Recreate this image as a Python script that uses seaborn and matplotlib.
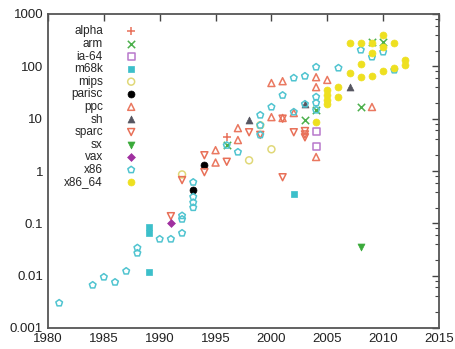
import matplotlib
matplotlib.use("Agg")
import matplotlib.pyplot as plt
import matplotlib.ticker as mticker
import seaborn as sns

# performance per architecture, by year of release (log scale)
alpha_year = [1996]
alpha_perf = [4.4]
arm_year = [1996, 2003, 2004, 2008, 2009, 2010]
arm_perf = [3.1, 9.4, 14.6, 16.7, 292, 292]
ia64_year = [2004, 2004]
ia64_perf = [5.8, 3.0]
m68k_year = [1989, 1989, 1989, 2002]
m68k_perf = [0.085, 0.065, 0.0117, 0.36]
mips_year = [1992, 1998, 1999, 2000]
mips_perf = [0.86, 1.6, 7.5, 2.6]
parisc_year = [1993, 1994]
parisc_perf = [0.43, 1.3]
ppc_year = [1995, 1995, 1997, 1997, 2000, 2000, 2001, 2001, 2002, 2004, 2004, 2004, 2005, 2009]
ppc_perf = [2.5, 1.45, 6.6, 3.9, 10.7, 48, 52, 10.3, 12.8, 62, 40, 1.85, 55, 16.7]
sh_year = [1998, 2003, 2007]
sh_perf = [9.4, 19, 40]
sparc_year = [1991, 1992, 1994, 1994, 1996, 1998, 1999, 2001, 2001, 2002, 2003, 2003, 2003]
sparc_perf = [0.137, 0.67, 2.0, 0.95, 1.5, 5.5, 4.9, 0.76, 10.0, 5.5, 5.8, 5.0, 4.4]
sx_year = [2008]
sx_perf = [0.035]
vax_year = [1991]
vax_perf = [0.10]
x86_year = [1981, 1984, 1985, 1986, 1987, 1988, 1988, 1990, 1991, 1992, 1992, 1992,
            1993, 1993, 1993, 1993, 1996, 1997, 1999, 1999, 1999, 2000, 2001, 2002,
            2002, 2003, 2003, 2004, 2004, 2004, 2004, 2006, 2008, 2009, 2010, 2011]
x86_perf = [0.003, 0.0066, 0.0094, 0.0075, 0.0122, 0.027, 0.034, 0.05, 0.05, 0.065, 0.12, 0.14,
            0.2, 0.25, 0.32, 0.61, 3.1, 2.3, 11.7, 7.5, 4.9, 16.7, 28, 60,
            13.4, 65, 19, 97, 26, 20, 14.6, 93, 205, 151, 188, 85]
x8664_year = [2004, 2005, 2005, 2005, 2005, 2006, 2006, 2007, 2007, 2008, 2008, 2008,
              2009, 2009, 2009, 2010, 2010, 2010, 2011, 2011, 2012, 2012]
x8664_perf = [8.6, 35, 28, 23, 19, 40, 26, 74, 279, 279, 111, 62,
              279, 180, 65, 398, 234, 81, 279, 93, 132, 106]

arches = [
    ("alpha", alpha_year, alpha_perf),
    ("arm", arm_year, arm_perf),
    ("ia-64", ia64_year, ia64_perf),
    ("m68k", m68k_year, m68k_perf),
    ("mips", mips_year, mips_perf),
    ("parisc", parisc_year, parisc_perf),
    ("ppc", ppc_year, ppc_perf),
    ("sh", sh_year, sh_perf),
    ("sparc", sparc_year, sparc_perf),
    ("sx", sx_year, sx_perf),
    ("vax", vax_year, vax_perf),
    ("x86", x86_year, x86_perf),
    ("x86_64", x8664_year, x8664_perf),
]

# marker, colour, filled
styles = {
    "alpha": ("+", "#e8705a", True),
    "arm": ("x", "#4cb04c", True),
    "ia-64": ("s", "#b878cc", False),
    "m68k": ("s", "#3cbfca", True),
    "mips": ("o", "#e0d878", False),
    "parisc": ("o", "#000000", True),
    "ppc": ("^", "#ea7860", False),
    "sh": ("^", "#555560", True),
    "sparc": ("v", "#e87058", False),
    "sx": ("v", "#3aaa3a", True),
    "vax": ("D", "#a030a0", True),
    "x86": ("p", "#50c4d0", False),
    "x86_64": ("o", "#eee020", True),
}

sns.set_style("white")
plt.rcParams["font.family"] = ["Liberation Sans", "DejaVu Sans"]

fig = plt.figure(figsize=(4.55, 3.49), dpi=100)
ax = fig.add_axes([48 / 455, 21 / 349, 391 / 455, 314 / 349])

for name, yrs, vals in arches:
    marker, col, filled = styles[name]
    if marker in ("+", "x"):
        sns.scatterplot(x=yrs, y=vals, ax=ax, label=name, marker=marker, s=28,
                        color=col, linewidth=1.1)
    elif filled:
        size = 16 if marker == "D" else 25
        sns.scatterplot(x=yrs, y=vals, ax=ax, label=name, marker=marker, s=size,
                        color=col, edgecolor=col, linewidth=0.5)
    else:
        sns.scatterplot(x=yrs, y=vals, ax=ax, label=name, marker=marker, s=25,
                        color=col, facecolor="none", edgecolor=col, linewidth=1.1)

ax.set_yscale("log")
ax.set_xlim(1980, 2015)
ax.set_ylim(0.001, 1000)
ax.set_xticks(range(1980, 2016, 5))
ax.yaxis.set_major_locator(mticker.FixedLocator([0.001, 0.01, 0.1, 1, 10, 100, 1000]))
ax.yaxis.set_major_formatter(mticker.FuncFormatter(lambda v, p: f"{v:g}"))
ax.yaxis.set_minor_locator(mticker.LogLocator(subs=(2, 4, 6, 8), numticks=20))
ax.yaxis.set_minor_formatter(mticker.NullFormatter())
ax.tick_params(which="both", direction="in", top=True, right=True, colors="#444444",
               labelcolor="#222222", labelsize=9.5)
ax.tick_params(which="major", length=5, width=1)
ax.tick_params(which="minor", length=3, width=0.8)
for sp in ax.spines.values():
    sp.set_color("#555555")
    sp.set_linewidth(1.3)

ax.legend(loc="upper left", bbox_to_anchor=(0.02, 0.99), frameon=False, markerfirst=False,
          scatterpoints=1, fontsize=8.5, handletextpad=1.8, labelspacing=0.05,
          borderaxespad=0.3, handlelength=1.2)

fig.savefig("out.png", dpi=100)
